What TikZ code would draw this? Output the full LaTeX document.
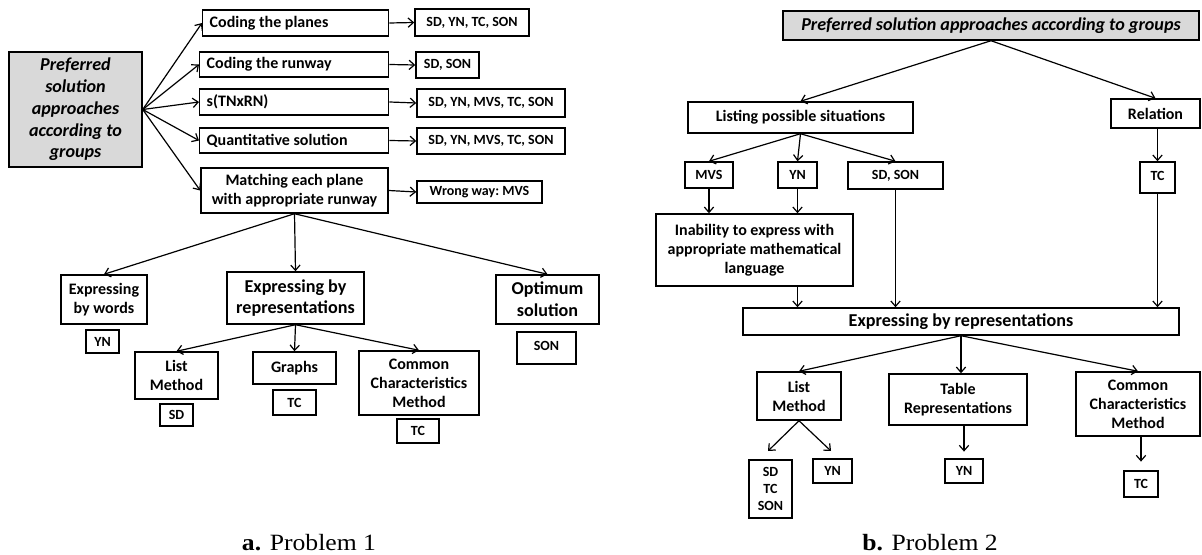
\documentclass[tikz,border=0pt]{standalone}
\usepackage{fontspec}
\setmainfont{Carlito}
\newfontfamily\capfont{Liberation Serif}
\usetikzlibrary{arrows.meta,calc}

\definecolor{headgray}{RGB}{217,217,217}
\newcommand\fsSmall{\fontsize{10.5}{12.8}\selectfont\bfseries\frenchspacing}
\newcommand\fsMid{\fontsize{12}{14.2}\selectfont\bfseries\frenchspacing}
\newcommand\fsBig{\fontsize{13.6}{16.3}\selectfont\bfseries\frenchspacing}

\begin{document}
\begin{tikzpicture}[x=0.75pt,y=-0.75pt,
  bxbase/.style={draw, line width=1.1pt, inner sep=0pt, align=center},
  sz/.style 2 args={minimum width=#1*0.75pt, minimum height=#2*0.75pt},
  bxleft/.style={draw, line width=1.1pt, inner ysep=0pt, inner xsep=5.25pt,
    align=flush left, anchor=west, font=\fsMid},
  bxsmall/.style={bxbase, font=\fsSmall},
  bxmid/.style={bxbase, font=\fsMid},
  bxbig/.style={bxbase, font=\fsBig},
  bxhead/.style={bxbase, fill=headgray, font=\fsBig\itshape},
  arrline/.style={line width=0.9pt, -{Straight Barb[length=4pt,width=7pt]}},
  captext/.style={anchor=base, font=\capfont\fontsize{17.5}{20}\selectfont},
]
\useasboundingbox (0,0) rectangle (1202,555);

% ---------------- Problem 1 ----------------
\node[bxhead, sz={133}{115}] (g1) at (75.5,109.5)
  {Preferred\\solution\\approaches\\according to\\groups};

\node[bxleft, text width=129pt, minimum height=19.5pt] (p1) at (202,23) {Coding the planes};
\node[bxleft, text width=131.25pt, minimum height=18.75pt] (p2) at (199,64.5) {Coding the runway};
\node[bxleft, text width=131.25pt, minimum height=19.5pt] (p3) at (199,102) {s(TNxRN)};
\node[bxleft, text width=131.25pt, minimum height=18.75pt] (p4) at (199,140.5) {Quantitative solution};
\node[bxmid, sz={187}{45}] (p5) at (294.5,190.5) {Matching each plane\\with appropriate runway};

\node[bxsmall, sz={114}{27}] (r1) at (472,22.5) {SD, YN, TC, SON};
\node[bxsmall, sz={63}{26}] (r2) at (447.5,65) {SD, SON};
\node[bxsmall, sz={148}{28}] (r3) at (491,103) {SD, YN, MVS, TC, SON};
\node[bxsmall, sz={148}{26}] (r4) at (491,141) {SD, YN, MVS, TC, SON};
\node[bxsmall, sz={125}{22}] (r5) at (479.5,192) {Wrong way: MVS};

\node[bxmid, sz={86}{49}] (e1) at (104,299.5) {Expressing\\by words};
\node[bxbig, sz={137}{52}] (e2) at (295.5,298) {Expressing by\\representations};
\node[bxbig, sz={103}{49}] (e3) at (547.5,299.5) {Optimum\\solution};

\node[bxsmall, sz={33}{23}] (y1) at (102.5,341.5) {YN};
\node[bxmid, sz={83}{47}] (l1) at (176.5,375.5) {List\\Method};
\node[bxsmall, sz={33}{22}] (s1) at (176.5,415) {SD};
\node[bxmid, sz={83}{32}] (gr) at (294.5,368) {Graphs};
\node[bxsmall, sz={43}{25}] (t1) at (294.5,402.5) {TC};
\node[bxmid, sz={120}{64}] (c1) at (419,383) {Common\\Characteristics\\Method};
\node[bxsmall, sz={42}{24}] (t2) at (418,431) {TC};
\node[bxsmall, sz={59}{32}] (s2) at (546.5,348) {\raisebox{3pt}{SON}};

\foreach \t in {p1,p2,p3,p4,p5} \draw[arrline] (g1.east) -- (\t.west);
\foreach \a/\b in {p1/r1,p2/r2,p3/r3,p4/r4,p5/r5} \draw[arrline] (\a.east) -- (\b.west);
\foreach \t in {e1,e2,e3} \draw[arrline] (p5.south) -- (\t.north);
\foreach \t in {l1,gr,c1} \draw[arrline] (e2.south) -- (\t.north);

% ---------------- Problem 2 ----------------
\node[bxhead, sz={416}{29}] (g3) at (991,25.5)
  {Preferred solution approaches according to groups};

\node[bxmid, sz={225}{31}] (ls) at (800.5,117.5) {Listing possible situations};
\node[bxmid, sz={89}{29}] (rl) at (1155.5,113.5) {Relation};
\node[bxsmall, sz={35}{31}] (tcr) at (1157.5,177.5) {\raisebox{3pt}{TC}};

\node[bxsmall, sz={48}{26}] (mvs) at (709,175) {MVS};
\node[bxsmall, sz={39}{26}] (ynr) at (797.5,175) {YN};
\node[bxsmall, sz={95}{27}] (sds) at (895.5,175.5) {SD, SON};

\node[bxmid, sz={197}{72}] (ina) at (754.5,250)
  {Inability to express with\\appropriate mathematical\\language};
\node[bxbig, sz={436}{27}] (exr) at (961,321.5) {Expressing by representations};

\node[bxmid, sz={84}{48}] (lm) at (799,396) {List\\Method};
\node[bxmid, sz={138}{51}] (tr) at (958,399.5) {Table\\Representations};
\node[bxmid, sz={124}{64}] (cc) at (1138,404) {Common\\Characteristics\\Method};

\node[bxsmall, sz={43}{58}] (sdt) at (770.5,489) {SD\\TC\\SON};
\node[bxsmall, sz={39}{24}] (yn2) at (832.5,471) {YN};
\node[bxsmall, sz={38}{24}] (yn3) at (964,471) {YN};
\node[bxsmall, sz={34}{26}] (tc3) at (1141,484) {TC};

\coordinate (lmA) at (768,451);
\coordinate (lmB) at (831,451);

\draw[arrline] (g3.south) -- (ls.north);
\draw[arrline] (g3.south) -- (rl.north);
\draw[arrline] (tcr.north |- rl.south) -- (tcr.north);
\draw[arrline] (tcr.south) -- (tcr.south |- exr.north);

\foreach \t in {mvs,ynr,sds} \draw[arrline] (ls.south) -- (\t.north);
\draw[arrline] (mvs.south) -- (mvs.south |- ina.north);
\draw[arrline] (ynr.south) -- (ynr.south |- ina.north);
\draw[arrline] (sds.south) -- (sds.south |- exr.north);
\draw[arrline] (ina.south -| ynr.south) -- (ynr.south |- exr.north);

\draw[arrline] (exr.south) -- (lm.north);
\draw[arrline] (exr.south) -- (exr.south |- tr.north);
\draw[arrline] (exr.south) -- (cc.north);

\draw[arrline] (lm.south) -- (lmA);
\draw[arrline] (lm.south) -- (lmB);
\draw[arrline, shorten >=5pt] (yn3.north |- tr.south) -- (yn3.north);
\draw[arrline, shorten >=6.5pt] (tc3.north |- cc.south) -- (tc3.north);

% ---------------- captions ----------------
\node[captext] (capa) at (309,550) {\scalebox{1.1}[1]{\textbf{a.} Problem 1}};
\node[captext] (capb) at (930,550) {\scalebox{1.1}[1]{\textbf{b.} Problem 2}};
\end{tikzpicture}
\end{document}
